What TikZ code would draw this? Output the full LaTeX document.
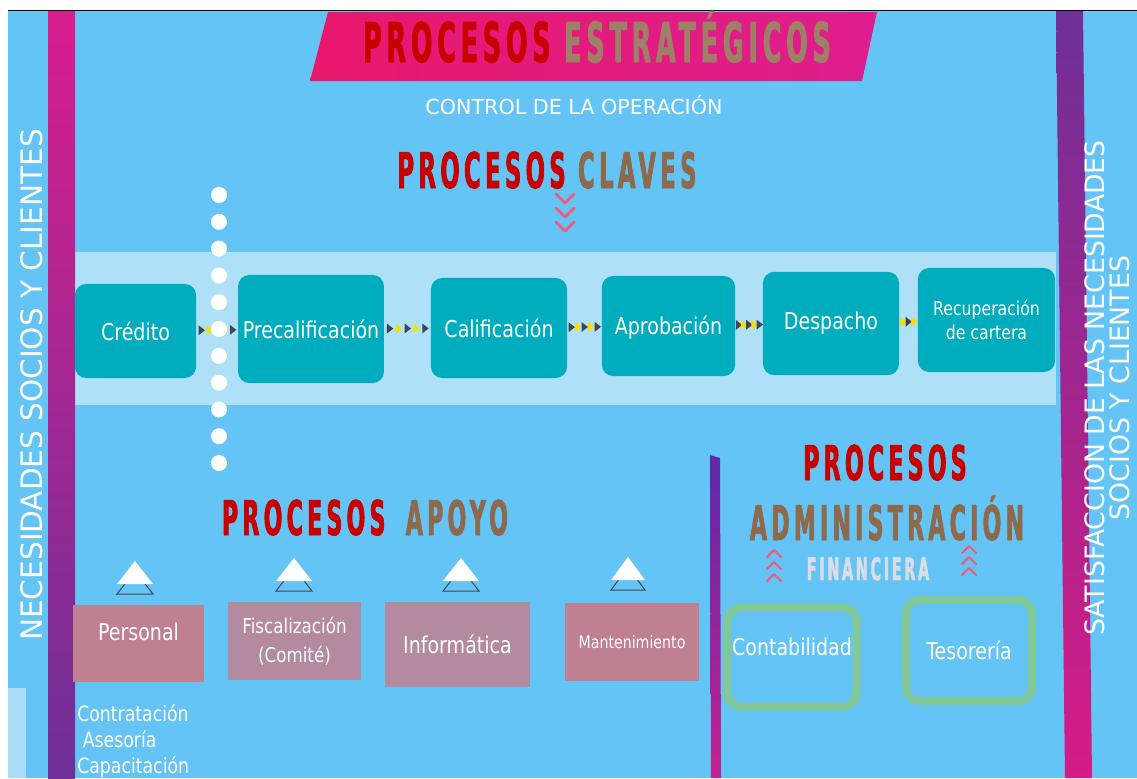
\documentclass[tikz,border=0pt]{standalone}
\usepackage{fontspec}
\setmainfont{DejaVu Sans}
\newfontfamily\boxfont{DejaVu Sans}[FakeStretch=0.82]
\newfontfamily\headfont{DejaVu Sans Bold}[FakeStretch=0.46,LetterSpace=9,FakeBold=1.5]
\usepackage{tikz}
\usetikzlibrary{arrows.meta,positioning,decorations.markings}
\definecolor{skyback}{HTML}{64C4F5}
\definecolor{bandblue}{HTML}{AEE0F8}
\definecolor{paleside}{HTML}{A8DCF8}
\definecolor{tealbox}{HTML}{00ADBF}
\definecolor{rosebox}{HTML}{BF8190}
\definecolor{lilacbox}{HTML}{B38AA0}
\definecolor{mintline}{HTML}{82C898}
\definecolor{headred}{HTML}{C80000}
\definecolor{headbrown}{HTML}{8E6A4C}
\definecolor{headgray}{HTML}{DADDE6}
\definecolor{chevpink}{HTML}{F25A78}
\definecolor{arrdark}{HTML}{404552}
\definecolor{arryellow}{HTML}{F5E000}
\definecolor{barmagenta}{HTML}{D81E8C}
\definecolor{barpurple}{HTML}{6E3098}
\definecolor{bannerl}{HTML}{E8186C}
\definecolor{bannerr}{HTML}{DE1E8E}

\begin{document}
\begin{tikzpicture}[x=0.025cm, y=-0.025cm,
  keybox/.style={fill=tealbox, rounded corners=8pt, text=white, align=center,
                 font=\boxfont\fontsize{16.5}{19}\selectfont},
  supbox/.style={fill=rosebox, text=white, align=center,
                 font=\boxfont\fontsize{16.5}{21}\selectfont},
  admbox/.style={draw=mintline, line width=0.2cm, rounded corners=10pt, text=white,
                 font=\boxfont\fontsize{16.5}{19}\selectfont},
  head/.style={font=\headfont\fontsize{#1}{#1}\selectfont, inner sep=0pt, anchor=base},
  sidetext/.style={text=white, rotate=90, align=center, inner sep=0pt},
  chev/.style={draw=chevpink, line width=2pt, line cap=round, line join=round},
  tipd/.pic={\fill[arrdark] (-2pt,-3.5pt) -- (2.5pt,0pt) -- (-2pt,3.5pt) -- cycle;},
  tipy/.pic={\fill[arryellow] (-2pt,-3.5pt) -- (2.5pt,0pt) -- (-2pt,3.5pt) -- cycle;},
  chain/.style={decoration={markings,
      mark=at position 0.12 with {\pic{tipd};},
      mark=at position 0.31 with {\pic{tipy};},
      mark=at position 0.50 with {\pic{tipd};},
      mark=at position 0.69 with {\pic{tipy};},
      mark=at position 0.88 with {\pic{tipd};}}, decorate},
  shortchain/.style={decoration={markings,
      mark=at position 0.2 with {\pic{tipy};},
      mark=at position 0.5 with {\pic{tipd};},
      mark=at position 0.8 with {\pic{tipy};}}, decorate}
]
\useasboundingbox (0,0) rectangle (1137,778);
\fill[white] (0,0) rectangle (1137,778);
\fill[skyback] (8,10.5) rectangle (1137,778);
\draw[black, line width=0.6pt] (8,10.5) -- (1137,10.5);
\fill[paleside] (8,688) rectangle (26,778);

% light band behind the key processes
\fill[bandblue] (75,252) rectangle (1056,405);

% side bars
\shade[top color=barmagenta, bottom color=barpurple] (48,11) rectangle (75,778);
\shade[top color=barpurple, bottom color=barmagenta!90!purple]
  (1056,11) -- (1083,11) -- (1092,778) -- (1065,778) -- cycle;
\shade[top color=barpurple!85!blue, bottom color=barmagenta!80!barpurple]
  (710,455) -- (720,458) -- (721,778) -- (711,778) -- cycle;

\node[sidetext, font=\fontsize{21}{21}\selectfont] (necesidades) at (32,385)
  {NECESIDADES SOCIOS Y CLIENTES};
\node[sidetext, font=\fontsize{19}{17.5}\selectfont] (satisfaccion) at (1107,388)
  {SATISFACCION DE LAS NECESIDADES\\SOCIOS Y CLIENTES};

% banner
\shade[left color=bannerl, right color=bannerr]
  (328,12) -- (877,12) -- (862,81) -- (310,81) -- cycle;
\node[head=39] (tEstrat) at (597,62)
  {\textcolor{headred}{PROCESOS} \textcolor{headbrown!85!white}{ESTRATÉGICOS}};

\node[anchor=base, text=white, inner sep=0pt, font=\fontsize{14.7}{16}\selectfont]
  (tControl) at (574,114) {CONTROL DE LA OPERACIÓN};

\node[head=35] (tClaves) at (547,188)
  {\textcolor{headred}{PROCESOS} \textcolor{headbrown}{CLAVES}};
\foreach \k in {0,1,2}
  \draw[chev] (556,194+14*\k) -- (565,203+14*\k) -- (574,194+14*\k);

% key processes
\node[keybox, minimum width=3.03cm, minimum height=2.35cm] (credito) at (135.5,331) {Crédito};
\node[keybox, minimum width=3.55cm, minimum height=2.7cm] (precal) at (311,329) {Precalificación};
\node[keybox, minimum width=3.4cm, minimum height=2.5cm] (calif) at (499,328) {Calificación};
\node[keybox, minimum width=3.33cm, minimum height=2.5cm, text depth=0.02cm] (aprob) at (668.5,326) {Aprobación};
\node[keybox, minimum width=3.4cm, minimum height=2.58cm] (despacho) at (831,323.5) {Despacho};
\node[keybox, minimum width=3.43cm, minimum height=2.6cm,
      font=\boxfont\fontsize{13.6}{16.5}\selectfont] (recup) at (986.5,320)
  {Recuperación\\de cartera};

\path[chain] (credito) -- (precal);
\path[chain] (precal) -- (calif);
\path[chain] (calif) -- (aprob);
\path[chain] (aprob) -- (despacho);
\path[shortchain] (despacho) -- (recup);

\foreach \i in {0,...,10}
  \fill[white] (219,195+26.8*\i) circle (0.2cm);

% support processes
\node[head=34] (tApoyo) at (365,535)
  {\textcolor{headred}{PROCESOS}\hspace{6pt} \textcolor{headbrown}{APOYO}};

\foreach \cx/\ty/\hw in {135/561/18, 294/558/18, 461/558/18, 628/557/17}{
  \draw[arrdark, line width=0.7pt] (\cx,\ty+10) -- (\cx+\hw,\ty+33) -- (\cx-\hw,\ty+33) -- cycle;
  \fill[white] (\cx,\ty) -- (\cx+\hw,\ty+23) -- (\cx-\hw,\ty+23) -- cycle;
}

\node[supbox, minimum width=3.28cm, minimum height=1.93cm, text depth=0.6cm] (personal) at (138.5,643.5) {Personal};
\node[supbox, fill=lilacbox, minimum width=3.33cm, minimum height=1.95cm,
      font=\boxfont\fontsize{14.5}{21}\selectfont] (fiscal) at (294.5,641)
  {Fiscalización\\(Comité)};
\node[supbox, fill=lilacbox, minimum width=3.63cm, minimum height=2.13cm] (informatica) at (457.5,644.5) {Informática};
\node[supbox, minimum width=3.35cm, minimum height=1.95cm,
      font=\boxfont\fontsize{12.3}{15}\selectfont] (manten) at (632,642) {Mantenimiento};

\node[anchor=north west, text=white, align=left, inner sep=0pt,
      font=\boxfont\fontsize{15}{18.5}\selectfont] (tareas) at (77,704)
  {Contratación\\\hspace{4pt}Asesoría\\Capacitación};

% administrative processes
\node[head=34] (tProc) at (885,480) {\textcolor{headred}{PROCESOS}};
\node[head=34] (tAdmin) at (887,540) {\textcolor{headbrown}{ADMINISTRACIÓN}};
\node[head=22] (tFinan) at (868,580) {\textcolor{headgray}{FINANCIERA}};
\foreach \k in {0,1,2}{
  \draw[chev, line width=1.5pt] (767,557+12*\k) -- (774,550+12*\k) -- (781,557+12*\k);
  \draw[chev, line width=1.5pt] (962,553+11*\k) -- (969,546+11*\k) -- (976,553+11*\k);
}

\node[admbox, minimum width=3.05cm, minimum height=2.48cm, text depth=0.5cm] (contab) at (792,657) {Contabilidad};
\node[admbox, minimum width=3.15cm, minimum height=2.53cm] (tesoreria) at (969,650.5) {Tesorería};
\end{tikzpicture}
\end{document}
